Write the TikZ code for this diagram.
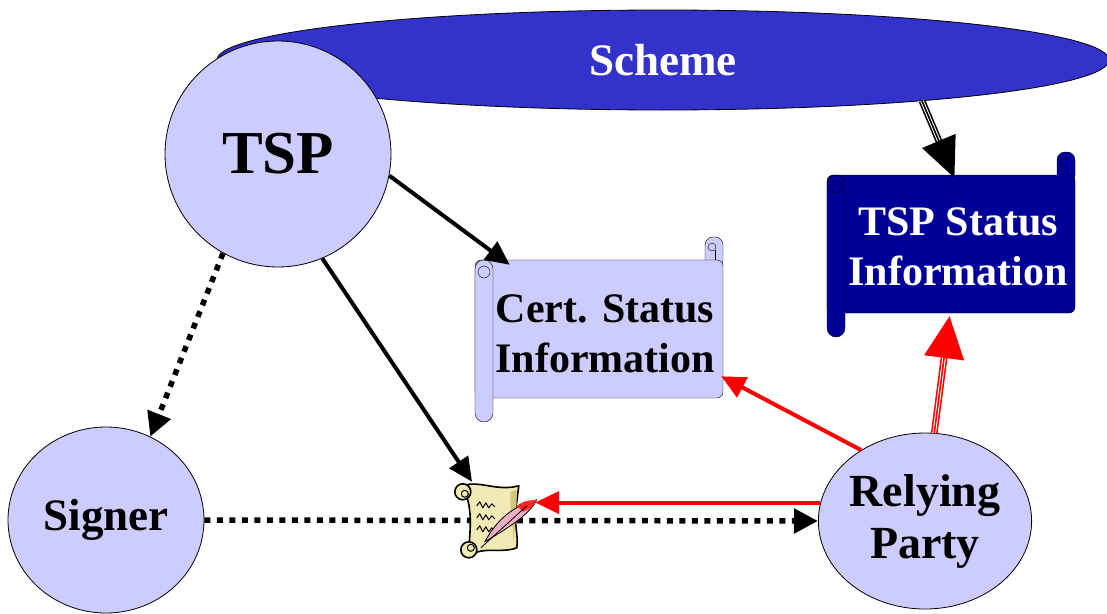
\documentclass[tikz,border=0pt]{standalone}
\usepackage{fontspec}
\setmainfont{Liberation Serif}
\usetikzlibrary{shapes.geometric,arrows.meta}

\definecolor{schemeblue}{RGB}{51,51,204}
\definecolor{lilac}{RGB}{204,204,255}
\definecolor{tspnavy}{RGB}{0,0,153}
\definecolor{parch}{RGB}{242,234,180}
\definecolor{parchdark}{RGB}{214,198,120}
\definecolor{quill}{RGB}{240,175,195}

% scroll: left, top, right, bottom of the sheet, fill colour
\newcommand{\scrollshape}[5]{%
  \filldraw[fill=#5, rounded corners=8pt] (#3-18,#2-23) rectangle (#3,#2+8);
  \draw (#3-18,#2) -- (#3-8,#2) -- (#3-8,#2-10);
  \draw (#3-11,#2-13) circle (4pt);
  \filldraw[fill=#5, rounded corners=6pt] (#1,#2) rectangle (#3,#4);
  \filldraw[fill=#5, rounded corners=9pt] (#1,#2) rectangle (#1+18,#4+24);
  \draw (#1+9,#2+12) circle (6pt);
}

\begin{document}
\begin{tikzpicture}[x=1pt, y=-1pt,
  party/.style={ellipse, draw, line width=0.8pt, fill=lilac, inner sep=0pt, align=center},
  sheettext/.style={font=\bfseries\fontsize{42}{50}\selectfont, align=center, inner sep=0pt,
    minimum width=232pt, minimum height=138pt},
  flow/.style={line width=4pt, -{Triangle[length=24pt,width=22pt]}},
  dotflow/.style={line width=5.5pt, dash pattern=on 6pt off 6.5pt, -{Triangle[length=24pt,width=24pt]}},
  triple/.style={double, double distance=3.6pt, line width=1.6pt},
  bighead/.style={line width=1.6pt, -{Triangle[length=40pt,width=36pt]}}]
  \useasboundingbox (0,0) rectangle (1107,613);

  % scheme and the parties
  \node[ellipse, draw, line width=0.8pt, fill=schemeblue, minimum width=892pt, minimum height=100pt,
    text=white, font=\bfseries\fontsize{45}{50}\selectfont] (scheme) at (663,60) {Scheme};
  \node[party, minimum size=226pt, font=\bfseries\fontsize{61}{70}\selectfont] (tsp) at (278,154) {TSP};
  \node[party, minimum width=196pt, minimum height=186pt, font=\bfseries\fontsize{45}{52}\selectfont]
    (signer) at (106,520) {Signer};
  \node[party, minimum width=194pt, minimum height=176pt, font=\bfseries\fontsize{46}{52}\selectfont]
    (rp) at (925,521) {Relying\\Party};

  % status sheets
  \scrollshape{475}{260}{723}{398}{lilac}
  \node[sheettext] (cert) at (605,334) {Cert. Status\\Information};
  \scrollshape{827}{175}{1075}{313}{tspnavy}
  \node[sheettext, text=white] (tspinfo) at (958,247) {TSP Status\\Information};

  % signed document
  \node[minimum width=80pt, minimum height=76pt, inner sep=0pt] (doc) at (495,520) {};

  % connectors
  \draw[flow] (tsp.-11) -- (cert.144);
  \draw[flow] (tsp.-67) -- (doc.121);
  \draw[dotflow] (tsp.-119) -- (signer.62);
  \draw[dotflow] (signer.east) -- (rp.west);
  \draw[flow, red] (rp.170) -- (doc.east |- rp.170);
  \draw[flow, red] (rp.132) -- (cert.-20);
  \draw[triple, shorten >=34pt] (scheme.-9.5) -- (tspinfo.93);
  \draw[bighead] (scheme.-9.5) -- (tspinfo.93);
  \draw[triple, red, shorten >=36pt] (rp.84) -- (tspinfo.-97);
  \draw[bighead, red, -{Triangle[length=42pt,width=40pt]}] (rp.84) -- (tspinfo.-97);

  % parchment with quill
  \begin{scope}[shift={(doc.north west)}, line join=round]
    \filldraw[fill=parch, line width=1.6pt] (8,4) .. controls (24,-2) and (42,10) .. (64,4)
      -- (62,20) .. controls (58,40) and (64,52) .. (62,66)
      .. controls (46,72) and (30,64) .. (14,74) .. controls (14,52) and (20,30) .. (8,4) -- cycle;
    \fill[parchdark] (56,10) .. controls (54,30) and (60,50) .. (58,64)
      .. controls (60,50) and (62,30) .. (62,8) -- cycle;
    \filldraw[fill=parch, line width=1.6pt] (8,10) circle (8pt);
    \draw[line width=1pt] (10,12) circle (3.5pt);
    \filldraw[fill=parch, line width=1.6pt] (14,68) circle (8pt);
    \draw[line width=1pt] (16,66) circle (3.5pt);
    \foreach \y in {24,36,48}
      \draw[line width=1pt] (22,\y) -- (25,\y-4) -- (28,\y+2) -- (31,\y-3) -- (34,\y+2) -- (37,\y-2) -- (40,\y+1);
    \filldraw[fill=quill, line width=0.8pt] (30,60) .. controls (42,38) and (58,24) .. (82,18)
      .. controls (74,34) and (50,48) .. (30,60) -- cycle;
    \fill[red!85] (62,24) .. controls (70,19) .. (82,18) .. controls (77,26) .. (68,30) -- cycle;
    \draw[line width=0.8pt] (26,66) -- (72,24);
  \end{scope}
\end{tikzpicture}
\end{document}
